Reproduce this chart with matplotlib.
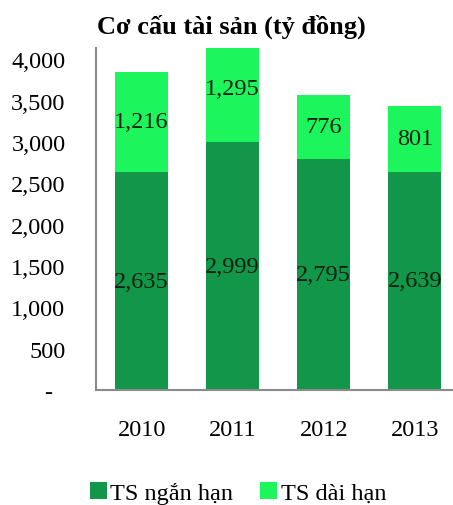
import numpy as np
import matplotlib
matplotlib.use("Agg")
import matplotlib.pyplot as plt
from matplotlib.ticker import FuncFormatter

plt.rcParams['font.family'] = ['Liberation Serif', 'DejaVu Serif']

years = ["2010", "2011", "2012", "2013"]
ngan_han = [2635, 2999, 2795, 2639]
dai_han = [1216, 1295, 776, 801]
labels = ["TS ngắn hạn", "TS dài hạn"]

dark = "#11964a"
light = "#1df55c"

fig = plt.figure(figsize=(4.53, 5.06), dpi=100)
ax = fig.add_axes([0.212, 0.227, 0.786, 0.676])

x = np.arange(len(years))
w = 0.58
b1 = ax.bar(x, ngan_han, w, color=dark, label=labels[0])
b2 = ax.bar(x, dai_han, w, bottom=ngan_han, color=light, label=labels[1])

for i in range(len(years)):
    ax.text(x[i], ngan_han[i] / 2, f"{ngan_han[i]:,}", ha="center", va="center",
            fontsize=17.5, color="#102010")
    ax.text(x[i], ngan_han[i] + dai_han[i] / 2, f"{dai_han[i]:,}", ha="center",
            va="center", fontsize=17.5, color="#102010")

ax.set_xlim(-0.5, 3.41)
ax.set_ylim(0, 4135)
ax.set_yticks(np.arange(0, 4001, 500))
ax.yaxis.set_major_formatter(FuncFormatter(lambda v, p: "-  " if v == 0 else f"{int(v):,}"))
ax.set_xticks(x)
ax.set_xticklabels(years)
ax.tick_params(axis="y", length=0, pad=22, labelsize=17.5)
ax.tick_params(axis="x", length=0, pad=21, labelsize=17.5)

for s in ["top", "right"]:
    ax.spines[s].set_visible(False)
for s in ["left", "bottom"]:
    ax.spines[s].set_color("#8a8a8a")
    ax.spines[s].set_linewidth(1.5)

fig.text(0.51, 0.948, "Cơ cấu tài sản (tỷ đồng)", ha="center", va="center",
         fontsize=19, fontweight="bold")

fig.legend(handles=[b1, b2], labels=labels, loc="center", bbox_to_anchor=(0.525, 0.024),
           ncol=2, frameon=False, fontsize=17.5, handlelength=0.7, handleheight=0.7,
           handletextpad=0.15, columnspacing=1.1)

fig.savefig("out.png", dpi=100)
